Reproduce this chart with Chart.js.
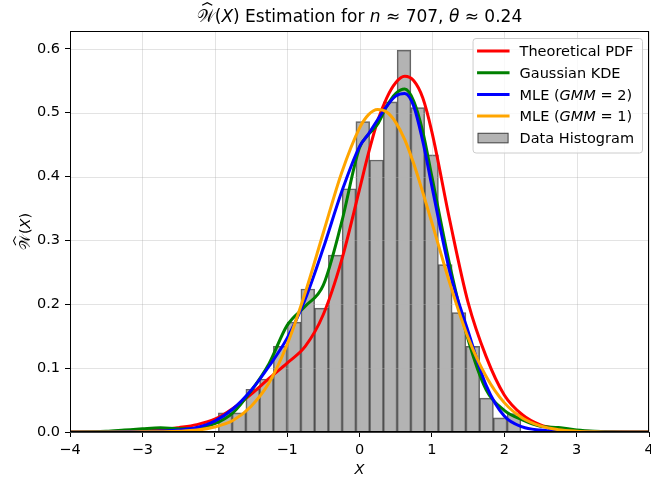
<!DOCTYPE html>
<html lang="en">
<head>
<meta charset="UTF-8">
<title>W(X) Estimation</title>
<script src="https://cdn.jsdelivr.net/npm/chart.js"></script>
<style>
  html, body { margin: 0; padding: 0; background: #ffffff; }
  #wrap { width: 651px; height: 479px; }
</style>
</head>
<body>
<div id="wrap"><canvas id="chart" width="651" height="479"></canvas></div>
<script>
// --- values ---
const xGrid = [-4, -3.75, -3.5, -3.25, -3, -2.75, -2.5, -2.25, -2, -1.75, -1.5, -1.25, -1, -0.75, -0.5, -0.25,
               0, 0.125, 0.25, 0.375, 0.5, 0.625, 0.75, 0.875, 1,
               1.25, 1.5, 1.75, 2, 2.25, 2.5, 2.75, 3, 3.25, 3.5, 3.75, 4];

const theoreticalPdf = [0, 0, 0.0002, 0.0005, 0.0012, 0.003, 0.0068, 0.0115, 0.02, 0.037, 0.059, 0.084, 0.108, 0.134, 0.184, 0.268,
                        0.38, 0.437, 0.487, 0.523, 0.547, 0.557, 0.55, 0.523, 0.47,
                        0.33, 0.203, 0.118, 0.058, 0.027, 0.011, 0.005, 0.0018, 0.0006, 0.0002, 0, 0];

const kdeValues = [0, 0.0003, 0.001, 0.003, 0.005, 0.0065, 0.005, 0.006, 0.013, 0.03, 0.064, 0.107, 0.167, 0.197, 0.23, 0.327,
                   0.445, 0.466, 0.482, 0.51, 0.53, 0.537, 0.518, 0.47, 0.4,
                   0.26, 0.145, 0.066, 0.034, 0.019, 0.009, 0.007, 0.003, 0.001, 0.0003, 0, 0];

const gmm2Values = [0, 0, 0.0001, 0.0003, 0.0007, 0.0015, 0.003, 0.007, 0.017, 0.036, 0.065, 0.103, 0.147, 0.208, 0.288, 0.375,
                    0.447, 0.467, 0.489, 0.51, 0.526, 0.53, 0.51, 0.455, 0.385,
                    0.25, 0.158, 0.073, 0.025, 0.008, 0.003, 0.001, 0.0003, 0.0001, 0, 0, 0];

const gmm1Values = [0, 0, 0, 0.0001, 0.0002, 0.0005, 0.0012, 0.003, 0.0078, 0.018, 0.04, 0.077, 0.137, 0.218, 0.312, 0.405,
                    0.476, 0.497, 0.505, 0.501, 0.485, 0.458, 0.42, 0.375, 0.328,
                    0.232, 0.148, 0.087, 0.046, 0.022, 0.0095, 0.0036, 0.0013, 0.0004, 0.0001, 0, 0];

const binWidth = 0.19;
const binLeftEdges = [-2.90, -2.71, -2.52, -2.33, -2.14, -1.95, -1.76, -1.57, -1.38, -1.19, -1.00, -0.81, -0.62, -0.43, -0.24,
                      -0.05, 0.14, 0.33, 0.52, 0.71, 0.90, 1.09, 1.28, 1.47, 1.66, 1.85, 2.04, 2.23, 2.42, 2.61];
const binHeights = [0.0074, 0, 0, 0, 0, 0.030, 0.030, 0.067, 0.083, 0.134, 0.172, 0.224, 0.194, 0.277, 0.381,
                    0.486, 0.426, 0.517, 0.598, 0.508, 0.434, 0.262, 0.187, 0.134, 0.053, 0.022, 0.029, 0, 0, 0.0074];

const xTicks = [-4, -3, -2, -1, 0, 1, 2, 3, 4];
const yTicks = [0, 0.1, 0.2, 0.3, 0.4, 0.5, 0.6];

const FONT = "'DejaVu Sans', 'Noto Sans', sans-serif";

function pairs(ys) { return xGrid.map((x, i) => ({ x: x, y: ys[i] })); }

// mixed upright / italic text, like matplotlib mathtext
function partFont(p, size) {
    return (p[1] === 'i' ? 'italic ' : '') + size + 'px ' + FONT;
}
function richWidth(ctx, parts, size) {
    let w = 0;
    parts.forEach(p => { ctx.font = partFont(p, size); w += ctx.measureText(p[0]).width; });
    return w;
}
function drawRich(ctx, parts, x, y, size, align) {
    let cx = align === 'center' ? x - richWidth(ctx, parts, size) / 2 : x;
    ctx.textAlign = 'left';
    ctx.textBaseline = 'alphabetic';
    parts.forEach(p => {
        ctx.font = partFont(p, size);
        const w = ctx.measureText(p[0]).width;
        ctx.fillText(p[0], cx, y);
        if (p[1] === 'hat') {
            // circumflex over the letter
            const top = y - size * 0.98;
            ctx.save();
            ctx.lineWidth = size * 0.07;
            ctx.beginPath();
            ctx.moveTo(cx + w * 0.3, top);
            ctx.lineTo(cx + w * 0.58, top - size * 0.16);
            ctx.lineTo(cx + w * 0.86, top);
            ctx.stroke();
            ctx.restore();
        }
        cx += w;
    });
}

const titleParts = [['𝒲', 'hat'], ['(', ''], ['X', 'i'], [')', ''], [' Estimation for ', ''], ['n', 'i'],
                    [' ≈ 707, ', ''], ['θ', 'i'], [' ≈ 0.24', '']];
const yLabelParts = [['𝒲', 'hat'], ['(', ''], ['X', 'i'], [')', '']];

const legendItems = [
    { parts: [['Theoretical PDF', '']], color: '#ff0000' },
    { parts: [['Gaussian KDE', '']], color: '#008000' },
    { parts: [['MLE (', ''], ['GMM', 'i'], [' = 2)', '']], color: '#0000ff' },
    { parts: [['MLE (', ''], ['GMM', 'i'], [' = 1)', '']], color: '#ffa500' },
    { parts: [['Data Histogram', '']], patch: true }
];

const decor = {
    id: 'decor',
    afterDatasetDraw(chart, args) {
        // grid goes over the bars but under the curves
        if (args.meta.type !== 'bar') return;
        const ctx = chart.ctx, a = chart.chartArea;
        const xs = chart.scales.x, ys = chart.scales.y;
        ctx.save();
        ctx.strokeStyle = 'rgba(176,176,176,0.35)';
        ctx.lineWidth = 1;
        xTicks.forEach(t => {
            const px = Math.round(xs.getPixelForValue(t)) + 0.5;
            ctx.beginPath(); ctx.moveTo(px, a.top); ctx.lineTo(px, a.bottom); ctx.stroke();
        });
        yTicks.forEach(t => {
            const py = Math.round(ys.getPixelForValue(t)) + 0.5;
            ctx.beginPath(); ctx.moveTo(a.left, py); ctx.lineTo(a.right, py); ctx.stroke();
        });
        ctx.restore();
    },
    afterDraw(chart) {
        const ctx = chart.ctx, a = chart.chartArea;
        ctx.save();
        // spines
        ctx.strokeStyle = '#000';
        ctx.lineWidth = 1;
        ctx.strokeRect(a.left + 0.5, a.top + 0.5, a.right - a.left - 1, a.bottom - a.top - 1);

        ctx.fillStyle = '#000';
        ctx.strokeStyle = '#000';
        // title
        drawRich(ctx, titleParts, (a.left + a.right) / 2, 22, 17, 'center');
        // x label
        drawRich(ctx, [['X', 'i']], (a.left + a.right) / 2, 474, 14.5, 'center');
        // y label
        ctx.save();
        ctx.translate(30, (a.top + a.bottom) / 2);
        ctx.rotate(-Math.PI / 2);
        drawRich(ctx, yLabelParts, 0, 0, 14.5, 'center');
        ctx.restore();

        // legend, upper right inside the axes
        const fs = 14.5, rowH = 21.7;
        let tw = 0;
        legendItems.forEach(it => { tw = Math.max(tw, richWidth(ctx, it.parts, fs)); });
        const boxW = tw + 55, boxH = rowH * legendItems.length + 6;
        const bx = a.right - 7 - boxW, by = a.top + 7;
        ctx.beginPath();
        ctx.roundRect(bx + 0.5, by + 0.5, boxW, boxH, 3);
        ctx.fillStyle = 'rgba(255,255,255,0.8)';
        ctx.fill();
        ctx.strokeStyle = '#cccccc';
        ctx.lineWidth = 1;
        ctx.stroke();
        legendItems.forEach((it, i) => {
            const cy = by + 13 + i * rowH;
            if (it.patch) {
                ctx.fillStyle = 'rgba(128,128,128,0.6)';
                ctx.fillRect(bx + 5, cy - 5, 31, 10.5);
                ctx.strokeStyle = 'rgba(0,0,0,0.6)';
                ctx.lineWidth = 1;
                ctx.strokeRect(bx + 5.5, cy - 4.5, 30, 9.5);
            } else {
                ctx.strokeStyle = it.color;
                ctx.lineWidth = 3;
                ctx.beginPath();
                ctx.moveTo(bx + 4.5, cy); ctx.lineTo(bx + 37, cy);
                ctx.stroke();
            }
            ctx.fillStyle = '#000';
            drawRich(ctx, it.parts, bx + 47, cy + 5.2, fs, 'left');
        });
        ctx.restore();
    }
};

function curve(label, ys, color, order) {
    return {
        type: 'line', label: label, data: pairs(ys), order: order,
        borderColor: color, borderWidth: 3, pointRadius: 0,
        cubicInterpolationMode: 'monotone', fill: false
    };
}

new Chart(document.getElementById('chart'), {
    type: 'bar',
    data: {
        datasets: [
            curve('MLE (GMM = 1)', gmm1Values, '#ffa500', 0),
            curve('MLE (GMM = 2)', gmm2Values, '#0000ff', 1),
            curve('Gaussian KDE', kdeValues, '#008000', 2),
            curve('Theoretical PDF', theoreticalPdf, '#ff0000', 3),
            {
                type: 'bar', label: 'Data Histogram', order: 4,
                data: binLeftEdges.map((e, i) => ({ x: e + binWidth / 2, y: binHeights[i] })),
                backgroundColor: 'rgba(128,128,128,0.6)',
                borderColor: 'rgba(0,0,0,0.62)',
                borderWidth: 1,
                barPercentage: 1.0,
                categoryPercentage: 1.0
            }
        ]
    },
    options: {
        responsive: false,
        animation: false,
        devicePixelRatio: 1,
        layout: { padding: { left: 0, right: 2, top: 31, bottom: 0 } },
        plugins: { legend: { display: false }, tooltip: { enabled: false } },
        scales: {
            x: {
                type: 'linear', min: -4, max: 4, offset: false,
                ticks: {
                    stepSize: 1, padding: 5, color: '#000',
                    font: { family: FONT, size: 14.5 },
                    callback: v => String(v).replace('-', '\u2212')
                },
                grid: { offset: false, drawOnChartArea: false, tickLength: 5, tickColor: '#000', color: '#000' },
                border: { display: true, color: '#000', width: 1 },
                afterFit: s => { s.height = 47; s.paddingLeft = 0; s.paddingRight = 0; }
            },
            y: {
                min: 0, max: 0.628,
                ticks: {
                    stepSize: 0.1, padding: 5, color: '#000',
                    font: { family: FONT, size: 14.5 },
                    callback: v => v.toFixed(1)
                },
                grid: { drawOnChartArea: false, tickLength: 5, tickColor: '#000', color: '#000' },
                border: { display: true, color: '#000', width: 1 },
                afterBuildTicks: s => { s.ticks = s.ticks.filter(t => Math.abs(t.value * 10 - Math.round(t.value * 10)) < 1e-6); },
                afterFit: s => { s.width = 70; s.paddingTop = 0; s.paddingBottom = 0; }
            }
        }
    },
    plugins: [decor]
});
</script>
</body>
</html>
